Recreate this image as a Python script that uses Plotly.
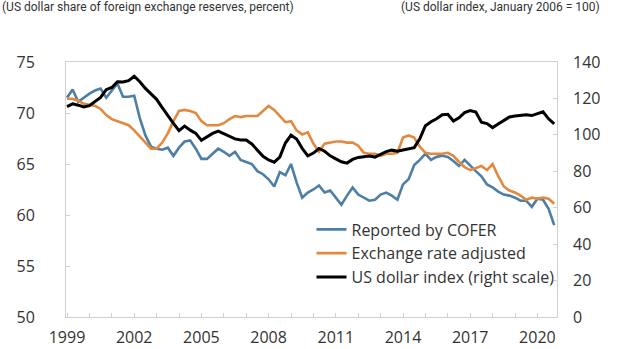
import plotly.graph_objects as go

# Quarterly observations, 1999Q1 - 2020Q4
start_year = 1999
n_quarters = 88
quarters = [start_year + i / 4 for i in range(n_quarters)]

cofer_share = [
    71.5, 72.3, 71.1, 71.5, 71.9, 72.2, 72.4, 71.5, 72.2, 72.9,
    71.6, 71.6, 71.7, 69.5, 67.8, 66.7, 66.5, 66.4, 66.6, 65.8,
    66.6, 67.2, 67.3, 66.5, 65.5, 65.5, 66.0, 66.5, 66.2, 65.8,
    66.2, 65.4, 65.2, 65.0, 64.3, 64.0, 63.5, 62.8, 64.2, 63.9,
    65.0, 63.2, 61.7, 62.2, 62.5, 62.9, 62.2, 62.4, 61.7, 61.0,
    61.9, 62.7, 62.0, 61.7, 61.4, 61.5, 62.0, 62.2, 61.9, 61.5,
    63.0, 63.5, 64.9, 65.4, 66.0, 65.4, 65.7, 65.8, 65.7, 65.3,
    64.8, 65.4, 64.8, 64.3, 63.8, 63.0, 62.7, 62.3, 62.0, 61.9,
    61.7, 61.4, 61.4, 60.8, 61.6, 61.5, 60.6, 59.0,
]

fx_adjusted_share = [
    71.4, 71.4, 71.2, 70.9, 70.8, 70.7, 70.4, 69.8, 69.4, 69.2,
    69.0, 68.8, 68.3, 67.7, 67.0, 66.5, 66.5, 67.1, 68.0, 69.2,
    70.2, 70.3, 70.2, 70.0, 69.2, 68.8, 68.8, 68.8, 69.0, 69.4,
    69.7, 69.6, 69.7, 69.7, 69.7, 70.2, 70.7, 70.3, 69.7, 69.1,
    69.2, 68.3, 67.9, 68.1, 67.0, 66.2, 67.0, 67.1, 67.2, 67.2,
    67.1, 67.1, 66.8, 66.1, 66.0, 66.0, 65.8, 66.0, 66.0, 66.1,
    67.6, 67.8, 67.6, 66.7, 66.1, 66.0, 66.0, 66.0, 66.1, 65.8,
    65.2, 64.7, 64.4, 64.6, 64.8, 64.4, 65.0, 63.8, 62.8, 62.4,
    62.2, 61.9, 61.5, 61.7, 61.6, 61.7, 61.6, 61.1,
]

usd_index = [
    115.5, 117.0, 116.3, 115.3, 116.0, 118.5, 120.6, 124.8, 126.0, 129.2,
    129.0, 129.8, 132.2, 129.2, 125.5, 122.5, 119.5, 115.0, 110.5, 106.3,
    102.3, 104.8, 102.6, 100.8, 97.0, 99.0, 100.8, 102.0, 100.6, 99.0,
    97.8, 97.2, 97.2, 95.0, 91.8, 88.2, 86.2, 85.0, 87.8, 95.5,
    99.9, 97.7, 92.6, 88.5, 90.0, 92.5, 91.0, 88.5, 86.8, 85.2,
    84.5, 86.5, 87.6, 88.2, 88.4, 87.8, 89.2, 90.8, 91.6, 91.0,
    91.7, 92.2, 93.0, 97.8, 105.0, 107.2, 108.8, 111.0, 111.3, 107.6,
    109.4, 112.2, 113.3, 112.5, 107.0, 106.2, 104.0, 106.0, 108.0, 109.8,
    110.3, 110.8, 111.0, 110.6, 111.8, 112.7, 108.8, 106.0,
]

year_ticks = list(range(1999, 2021))
year_labels = [str(y) if (y - 1999) % 3 == 0 else "" for y in year_ticks]
left_ticks = [50, 55, 60, 65, 70, 75]
right_ticks = [0, 20, 40, 60, 80, 100, 120, 140]

series_names = ["Reported by COFER", "Exchange rate adjusted", "US dollar index (right scale)"]
left_title = "(US dollar share of foreign exchange reserves, percent)"
right_title = "(US dollar index, January 2006 = 100)"

BLUE = "#4d7fa6"
ORANGE = "#e3893f"
BLACK = "#000000"
AXIS = "#d0d0d0"
TEXT = "#333333"
FONT = "Open Sans, Noto Sans, sans-serif"
TITLE_FONT = "Roboto, Liberation Sans, sans-serif"

fig = go.Figure()
fig.add_trace(go.Scatter(x=quarters, y=cofer_share, name=series_names[0], mode="lines",
                         line=dict(color=BLUE, width=2.6)))
fig.add_trace(go.Scatter(x=quarters, y=fx_adjusted_share, name=series_names[1], mode="lines",
                         line=dict(color=ORANGE, width=2.6)))
fig.add_trace(go.Scatter(x=quarters, y=usd_index, name=series_names[2], mode="lines",
                         yaxis="y2", line=dict(color=BLACK, width=3)))

fig.update_layout(
    width=620, height=349,
    margin=dict(l=66, r=63, t=62, b=32),
    paper_bgcolor="white", plot_bgcolor="white",
    font=dict(family=FONT, size=16, color=TEXT),
    showlegend=True,
    legend=dict(x=0.50, y=0.41, xanchor="left", yanchor="top",
                bgcolor="rgba(0,0,0,0)", font=dict(size=16, color=TEXT),
                itemwidth=30, tracegroupgap=0),
    xaxis=dict(range=[1998.955, 2020.875], tickvals=year_ticks, ticktext=year_labels,
               showgrid=False, zeroline=False, showline=True, linecolor=AXIS, linewidth=1,
               mirror=True, ticks="inside", ticklen=4, tickcolor=AXIS,
               ticklabelstandoff=6, automargin=False),
    yaxis=dict(range=[50, 75], tickvals=left_ticks, showgrid=False, zeroline=False,
               showline=True, linecolor=AXIS, linewidth=1, mirror=True,
               ticks="inside", ticklen=4, tickcolor=AXIS, ticklabelstandoff=27,
               automargin=False),
    yaxis2=dict(range=[0, 140], tickvals=right_ticks, overlaying="y", side="right",
                showgrid=False, zeroline=False, showline=False,
                ticks="inside", ticklen=4, tickcolor=AXIS, ticklabelstandoff=15,
                automargin=False),
    annotations=[
        dict(text=left_title, xref="paper", yref="paper", x=-0.1344, y=1.2157,
             xanchor="left", yanchor="middle", showarrow=False,
             font=dict(family=TITLE_FONT, size=12, color=TEXT)),
        dict(text=right_title, xref="paper", yref="paper", x=1.0916, y=1.2157,
             xanchor="right", yanchor="middle", showarrow=False,
             font=dict(family=TITLE_FONT, size=12, color=TEXT)),
    ],
)

fig.write_html("out.html")
